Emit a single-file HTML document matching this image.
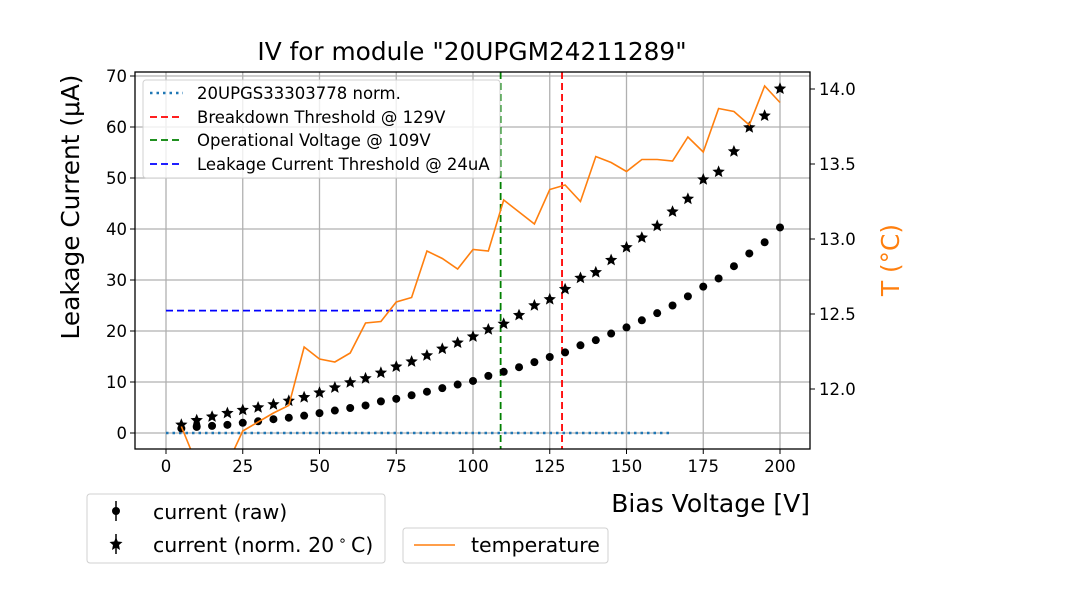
<!DOCTYPE html>
<html><head><meta charset="utf-8"><style>
body{margin:0;background:#fff;}
svg{display:block;font-family:"DejaVu Sans","Liberation Sans",sans-serif;}
</style></head><body>
<svg id="c" width="1080" height="600" viewBox="0 0 1080 600"></svg>
<script>
const voltages=[5,10,15,20,25,30,35,40,45,50,55,60,65,70,75,80,85,90,95,100,105,110,115,120,125,130,135,140,145,150,155,160,165,170,175,180,185,190,195,200];
const rawCurrent=[0.9,1.2,1.4,1.6,2.0,2.3,2.7,3.0,3.4,3.9,4.4,4.9,5.4,6.2,6.7,7.4,8.1,8.8,9.5,10.2,11.2,12.0,12.9,13.9,14.9,15.8,17.2,18.2,19.5,20.7,22.1,23.5,25.0,26.8,28.7,30.3,32.7,35.2,37.4,40.3];
const normCurrent=[1.6,2.5,3.2,3.9,4.5,5.0,5.6,6.3,7.0,7.9,8.9,9.9,10.7,11.8,13.0,14.0,15.2,16.5,17.7,18.9,20.3,21.4,23.1,25.0,26.2,28.2,30.4,31.5,33.9,36.4,38.3,40.6,43.4,45.9,49.7,51.2,55.2,59.9,62.2,67.5];
const temperature=[11.75,11.5,11.45,11.5,11.72,11.78,11.84,11.89,12.28,12.20,12.18,12.24,12.44,12.45,12.58,12.61,12.92,12.87,12.80,12.93,12.92,13.26,13.18,13.10,13.33,13.36,13.25,13.55,13.51,13.45,13.53,13.53,13.52,13.68,13.58,13.87,13.85,13.76,14.02,13.91];
const xTicks=[0,25,50,75,100,125,150,175,200];
const yTicks=[0,10,20,30,40,50,60,70];
const tTicks=[12.0,12.5,13.0,13.5,14.0];
const breakdownV=129, operationalV=109, leakageThr=24, refEnd=165;

const L=135,R=810,T=72,B=449;
const sx=v=>166+v*3.07;
const sy=i=>433-i*5.1;
const st=t=>89+(14.0-t)*150;
const NS="http://www.w3.org/2000/svg";
const svg=document.getElementById('c');
function mk(tag,attrs,parent){const e=document.createElementNS(NS,tag);for(const k in attrs)e.setAttribute(k,attrs[k]);(parent||svg).appendChild(e);return e;}
const defs=mk('defs',{});const cp=mk('clipPath',{id:'pc'},defs);mk('rect',{x:L,y:T,width:R-L,height:B-T},cp);

const grid=mk('g',{stroke:'#b0b0b0','stroke-width':1.3});

xTicks.forEach(v=>{mk('line',{x1:sx(v),x2:sx(v),y1:T,y2:B},grid);});
yTicks.forEach(v=>{mk('line',{x1:L,x2:R,y1:sy(v),y2:sy(v)},grid);});

const plot=mk('g',{'clip-path':'url(#pc)'});
let e=mk('line',{x1:sx(0),x2:sx(refEnd),y1:sy(0),y2:sy(0),stroke:'#1f77b4','stroke-width':2.5,'stroke-dasharray':'2.5,4'},plot);

e=mk('line',{x1:sx(0),x2:sx(operationalV),y1:sy(leakageThr),y2:sy(leakageThr),stroke:'#0000ff','stroke-width':1.8,'stroke-dasharray':'7,4'},plot);

e=mk('line',{x1:sx(breakdownV),x2:sx(breakdownV),y1:T,y2:B,stroke:'#ff0000','stroke-width':1.8,'stroke-dasharray':'7,4'},plot);

e=mk('line',{x1:sx(operationalV),x2:sx(operationalV),y1:T,y2:B,stroke:'#008000','stroke-width':1.8,'stroke-dasharray':'7,4'},plot);


voltages.forEach((v,i)=>{const d=mk('circle',{cx:sx(v),cy:sy(rawCurrent[i]),r:4,fill:'#000'},plot);
});
function star(cx,cy,r){let p=[];for(let k=0;k<10;k++){const a=-Math.PI/2+k*Math.PI/5;const rr=k%2?r*0.45:r;p.push((cx+rr*Math.cos(a)).toFixed(1)+','+(cy+rr*Math.sin(a)).toFixed(1));}return p.join(' ');}
voltages.forEach((v,i)=>{const s=mk('polygon',{points:star(sx(v),sy(normCurrent[i]),6.5),fill:'#000'},plot);
});
const tl=mk('polyline',{points:voltages.map((v,i)=>sx(v)+','+st(temperature[i])).join(' '),fill:'none',stroke:'#ff7f0e','stroke-width':1.6},plot);


mk('rect',{x:L,y:T,width:R-L,height:B-T,fill:'none',stroke:'#000','stroke-width':1.3});
const tk=mk('g',{'font-size':'16.5',fill:'#000'});
xTicks.forEach(v=>{mk('line',{x1:sx(v),x2:sx(v),y1:B,y2:B+5,stroke:'#000'},tk);const t=mk('text',{x:sx(v),y:B+23,'text-anchor':'middle'},tk);t.textContent=v;});
yTicks.forEach(v=>{mk('line',{x1:L-5,x2:L,y1:sy(v),y2:sy(v),stroke:'#000'},tk);const t=mk('text',{x:L-8,y:sy(v)+6,'text-anchor':'end'},tk);t.textContent=v;});
tTicks.forEach(v=>{mk('line',{x1:R,x2:R+5,y1:st(v),y2:st(v),stroke:'#000'},tk);const t=mk('text',{x:R+9,y:st(v)+6,'text-anchor':'start'},tk);t.textContent=v.toFixed(1);});
</script>
<svg width="1080" height="600" style="position:absolute;left:0;top:0" font-family="DejaVu Sans, Liberation Sans, sans-serif">
<text x="472" y="60" font-size="24.8" text-anchor="middle">IV for module "20UPGM24211289"</text>
<text transform="translate(79,207) rotate(-90)" font-size="24.8" text-anchor="middle">Leakage Current (μA)</text>
<text transform="translate(899,260) rotate(-90)" font-size="24.8" fill="#ff7f0e" text-anchor="middle">T (°C)</text>
<text x="810" y="512" font-size="25" text-anchor="end">Bias Voltage [V]</text>
<g>
<rect x="143" y="80" width="357" height="98" rx="3" fill="rgba(255,255,255,0.8)" stroke="#d0d0d0"/>
<line x1="150" x2="183" y1="93" y2="93" stroke="#1f77b4" stroke-width="2.5" stroke-dasharray="2.5,4"/>
<line x1="150" x2="183" y1="117" y2="117" stroke="#ff0000" stroke-width="1.8" stroke-dasharray="7,4"/>
<line x1="150" x2="183" y1="140" y2="140" stroke="#008000" stroke-width="1.8" stroke-dasharray="7,4"/>
<line x1="150" x2="183" y1="164" y2="164" stroke="#0000ff" stroke-width="1.8" stroke-dasharray="7,4"/>
<g font-size="16.5"><text x="197" y="99">20UPGS33303778 norm.</text><text x="197" y="123">Breakdown Threshold @ 129V</text><text x="197" y="146">Operational Voltage @ 109V</text><text x="197" y="170">Leakage Current Threshold @ 24uA</text></g>
</g>
<g>
<rect x="87" y="494" width="298" height="69" rx="3" fill="#fff" stroke="#d0d0d0"/>
<line x1="116" x2="116" y1="501" y2="521" stroke="#000" stroke-width="1.5"/><circle cx="116" cy="511" r="4"/>
<line x1="116" x2="116" y1="534" y2="554" stroke="#000" stroke-width="1.5"/><polygon points="116,537 117.8,541.5 122.5,542 119,545 120,550 116,547.5 112,550 113,545 109.5,542 114.2,541.5"/>
<g font-size="20.5"><text x="153" y="519">current (raw)</text><text x="153" y="552">current (norm. 20<tspan font-size="14" dx="4" dy="-7">∘</tspan><tspan dx="4" dy="7">C)</tspan></text></g>
</g>
<g>
<rect x="403" y="528" width="205" height="35" rx="3" fill="#fff" stroke="#d0d0d0"/>
<line x1="414" x2="455" y1="545" y2="545" stroke="#ff7f0e" stroke-width="1.6"/>
<text x="471" y="552" font-size="20.5">temperature</text>
</g>
</svg>
</body></html>
